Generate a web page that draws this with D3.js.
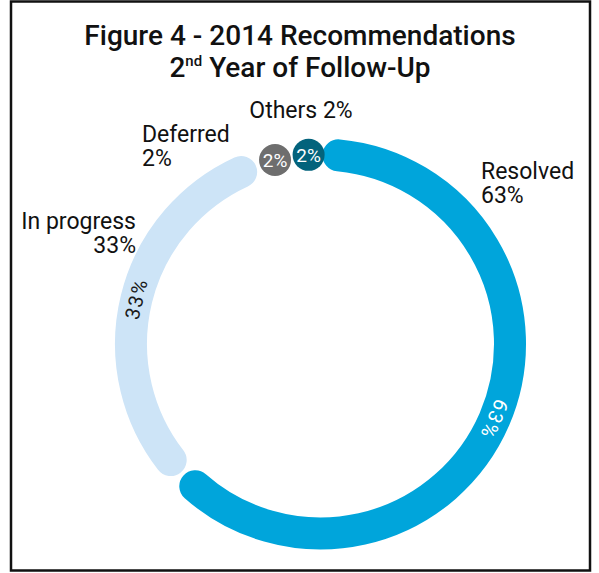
<!DOCTYPE html>
<html>
<head>
<meta charset="utf-8">
<script src="https://cdn.jsdelivr.net/npm/d3@7"></script>
<style>
  html, body { margin: 0; padding: 0; background: #fff; }
  svg text { font-family: Roboto, "Noto Sans", sans-serif; }
</style>
</head>
<body>
<svg id="chart" width="599" height="573"></svg>
<script>
// Status of 2014 recommendations after the second year of follow-up
const categories = ["Resolved", "In progress", "Deferred", "Others"];
const values = [63, 33, 2, 2];
const colors = ["#00a5db", "#cde4f7", "#6e6e6e", "#03637c"];
const ringLabelColors = ["#ffffff", "#1a1a1a", "#ffffff", "#ffffff"];

const W = 599, H = 573;
const cx = 320.5, cy = 344;
const rMid = 189.5;        // centreline of the ring
const band = 32;           // ring thickness
const capAng = (band / 2) / rMid;   // angular radius of a round cap
const gapAng = 4 / rMid;            // space between neighbouring pieces

const svg = d3.select("#chart");

// frame
svg.append("rect")
  .attr("x", 11).attr("y", 1.5)
  .attr("width", 579).attr("height", 569)
  .attr("fill", "none").attr("stroke", "#111").attr("stroke-width", 2.5);

// title
const title = svg.append("g").attr("fill", "#111").attr("font-weight", 500)
  .attr("text-anchor", "middle");
title.append("text").attr("x", 300).attr("y", 45).attr("font-size", 28)
  .text("Figure 4 - 2014 Recommendations");
const t2 = title.append("text").attr("x", 300).attr("y", 77).attr("font-size", 28);
t2.append("tspan").text("2");
t2.append("tspan").attr("font-size", 15).attr("dy", -11).text("nd");
t2.append("tspan").attr("dy", 11).text(" Year of Follow-Up");

// slices
const pie = d3.pie().sort(null).value(d => d)(values);
const toXY = (a, r) => [cx + r * Math.sin(a), cy - r * Math.cos(a)];

// Each piece: a band with round caps. Slices too short for their caps
// become dots; dots are packed backwards so they do not overlap.
const pieces = pie.map((p, i) => {
  const a0 = p.startAngle + gapAng / 2 + capAng;
  const a1 = p.endAngle - gapAng / 2 - capAng;
  return { i, a0, a1, dot: a1 <= a0, mid: (p.startAngle + p.endAngle) / 2 };
});
for (let k = pieces.length - 1; k >= 0; k--) {
  const pc = pieces[k], next = pieces[k + 1];
  if (pc.dot) {
    pc.c = next && next.dot ? Math.min(pc.mid, next.c - 2 * capAng - gapAng / 2) : pc.mid;
  } else if (next && next.dot) {
    pc.a1 = Math.min(pc.a1, next.c - 2 * capAng - gapAng);
  }
}

const ring = svg.append("g");
pieces.forEach(pc => {
  if (pc.dot) {
    const [x, y] = toXY(pc.c, rMid);
    ring.append("circle").attr("cx", x).attr("cy", y).attr("r", band / 2)
      .attr("fill", colors[pc.i]);
    ring.append("text").attr("x", x).attr("y", y + 0.5)
      .attr("text-anchor", "middle").attr("dominant-baseline", "central")
      .attr("font-size", 19).attr("fill", ringLabelColors[pc.i])
      .text(values[pc.i] + "%");
  } else {
    const p = d3.path();
    p.arc(cx, cy, rMid, pc.a0 - Math.PI / 2, pc.a1 - Math.PI / 2, false);
    ring.append("path").attr("d", p.toString())
      .attr("fill", "none").attr("stroke", colors[pc.i])
      .attr("stroke-width", band).attr("stroke-linecap", "round");
    const am = (pc.a0 + pc.a1) / 2;
    const [x, y] = toXY(am, rMid);
    ring.append("text")
      .attr("transform", `translate(${x},${y}) rotate(${am * 180 / Math.PI})`)
      .attr("text-anchor", "middle").attr("dominant-baseline", "central")
      .attr("font-size", 20).attr("letter-spacing", 1.5)
      .attr("fill", ringLabelColors[pc.i])
      .text(values[pc.i] + "%");
  }
});

// outside labels
const lab = svg.append("g").attr("fill", "#111").attr("font-size", 23);
function label(x, y, anchor, lines) {
  const t = lab.append("text").attr("x", x).attr("y", y).attr("text-anchor", anchor);
  lines.forEach((s, j) => t.append("tspan").attr("x", x).attr("dy", j ? 24 : 0).text(s));
}
label(481, 179, "start", [categories[0], values[0] + "%"]);
label(136, 229, "end", [categories[1], values[1] + "%"]);
label(142, 142, "start", [categories[2], values[2] + "%"]);
label(301, 118, "middle", [categories[3] + " " + values[3] + "%"]);
</script>
</body>
</html>
